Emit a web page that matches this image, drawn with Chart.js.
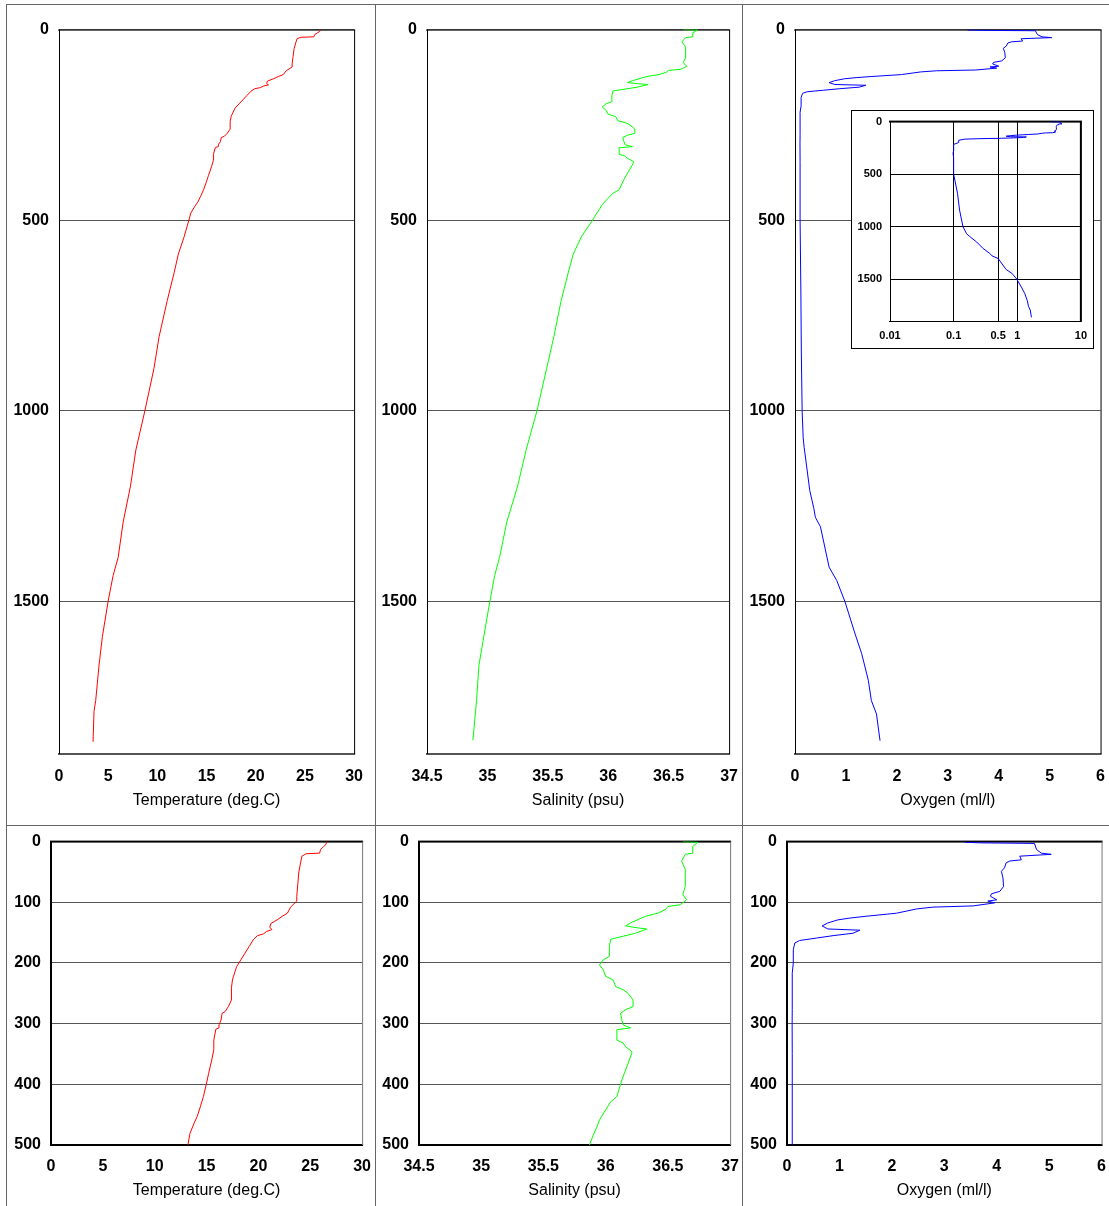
<!DOCTYPE html>
<html>
<head>
<meta charset="utf-8">
<script src="https://cdn.jsdelivr.net/npm/chart.js@4.4.0/dist/chart.umd.min.js"></script>
<style>
  body { margin: 0; background: #fff; }
  #page { position: relative; width: 1109px; height: 1206px; overflow: hidden; background: #fff; }
  .rule { position: absolute; background: #666; }
  canvas { position: absolute; }
  .inset-box { position: absolute; left: 851px; top: 110px; width: 241px; height: 237px; border: 1px solid #000; background: #fff; }
</style>
</head>
<body>
<div id="page">
  <div class="rule" style="left:6px;top:4px;width:1110px;height:1px"></div>
  <div class="rule" style="left:6px;top:825px;width:1110px;height:1px"></div>
  <div class="rule" style="left:6px;top:4px;width:1px;height:1210px"></div>
  <div class="rule" style="left:375px;top:4px;width:1px;height:1210px"></div>
  <div class="rule" style="left:742px;top:4px;width:1px;height:1210px"></div>

  <canvas id="temp-full"></canvas>
  <canvas id="sal-full"></canvas>
  <canvas id="oxy-full"></canvas>
  <div class="inset-box"></div>
  <canvas id="oxy-log"></canvas>

  <canvas id="temp-upper"></canvas>
  <canvas id="sal-upper"></canvas>
  <canvas id="oxy-upper"></canvas>
</div>
<script>
// CTD profile (depth in m)
const tempDepth = [0, 5, 8, 13, 19, 20, 24, 32, 50, 70, 90, 98, 108, 118, 123, 129, 135, 141, 145, 148, 152, 155, 162, 173, 184, 195, 206, 222, 228, 241, 261, 272, 280, 283, 294, 302, 307, 309, 327, 343, 360, 382, 398, 420, 437, 453, 464, 481, 500, 545, 589, 636, 711, 805, 889, 1000, 1103, 1197, 1292, 1385, 1432, 1500, 1592, 1667, 1760, 1788, 1868];
const tempValue = [26.6, 26.5, 26.3, 26.0, 25.9, 24.6, 24.2, 24.1, 23.9, 23.8, 23.7, 23.7, 23.1, 22.8, 22.3, 21.8, 21.2, 21.1, 21.3, 20.8, 20.5, 19.9, 19.5, 19.1, 18.7, 18.3, 17.9, 17.6, 17.5, 17.4, 17.4, 17.1, 16.8, 16.5, 16.4, 16.2, 16.2, 15.9, 15.7, 15.7, 15.5, 15.2, 15.0, 14.7, 14.4, 14.1, 13.8, 13.4, 13.2, 12.7, 12.13, 11.72, 11.0, 10.18, 9.65, 8.73, 7.81, 7.27, 6.52, 6.01, 5.5, 4.99, 4.41, 4.07, 3.73, 3.56, 3.46];

const salDepth = [0, 1, 8, 19, 21, 32, 46, 74, 87, 96, 104, 107, 112, 118, 123, 134, 139, 142, 144, 151, 156, 161, 173, 189, 195, 203, 211, 222, 228, 239, 244, 250, 261, 272, 277, 283, 294, 302, 307, 310, 327, 332, 338, 346, 349, 371, 393, 420, 429, 442, 459, 470, 484, 500, 542, 589, 636, 711, 805, 889, 1000, 1103, 1197, 1292, 1385, 1432, 1500, 1592, 1667, 1760, 1864];
const salValue = [36.62, 36.74, 36.70, 36.70, 36.64, 36.61, 36.64, 36.64, 36.62, 36.65, 36.60, 36.50, 36.48, 36.42, 36.32, 36.20, 36.16, 36.25, 36.33, 36.24, 36.14, 36.04, 36.03, 36.03, 35.98, 35.95, 35.98, 36.00, 36.06, 36.08, 36.14, 36.18, 36.22, 36.22, 36.16, 36.12, 36.13, 36.14, 36.20, 36.09, 36.09, 36.14, 36.16, 36.21, 36.21, 36.17, 36.13, 36.09, 36.04, 36.00, 35.95, 35.93, 35.90, 35.87, 35.78, 35.71, 35.67, 35.61, 35.55, 35.49, 35.41, 35.32, 35.25, 35.16, 35.10, 35.06, 35.02, 34.97, 34.93, 34.91, 34.88];

const oxyDepth = [1, 2, 3, 13, 19, 21, 24, 30, 32, 35, 43, 49, 60, 74, 82, 86, 90, 96, 98, 101, 106, 108, 111, 118, 123, 126, 129, 134, 139, 144, 146, 151, 155, 159, 163, 167, 178, 200, 217, 277, 300, 349, 500, 683, 843, 1000, 1069, 1096, 1147, 1209, 1256, 1279, 1304, 1410, 1445, 1500, 1585, 1637, 1707, 1760, 1795, 1865];
const oxyValue = [3.39, 3.67, 4.72, 4.76, 4.85, 5.04, 4.44, 4.47, 4.25, 4.18, 4.15, 4.09, 4.12, 4.13, 4.06, 3.90, 3.88, 4.00, 3.83, 3.96, 3.55, 2.78, 2.47, 2.09, 1.51, 1.20, 0.97, 0.78, 0.67, 0.78, 1.39, 1.26, 0.88, 0.56, 0.24, 0.15, 0.12, 0.12, 0.10, 0.10, 0.098, 0.10, 0.10, 0.115, 0.124, 0.14, 0.16, 0.18, 0.23, 0.29, 0.37, 0.40, 0.50, 0.67, 0.82, 0.98, 1.18, 1.31, 1.44, 1.50, 1.60, 1.67];

const depthTicksFull = [0, 500, 1000, 1500];
const depthTicksUpper = [0, 100, 200, 300, 400, 500];
const tempTicks = [0, 5, 10, 15, 20, 25, 30];
const salTicks = [34.5, 35, 35.5, 36, 36.5, 37];
const oxyTicks = [0, 1, 2, 3, 4, 5, 6];
const oxyLogTicks = [0.01, 0.1, 0.5, 1, 10];

const FONT = '"Liberation Sans", Arial, Helvetica, sans-serif';

// box round the plot area, drawn under the profile line
const framePlugin = {
  id: 'frame',
  beforeDatasetsDraw(chart, args, o) {
    const { ctx, chartArea: a } = chart;
    const w = a.right - a.left, h = a.bottom - a.top;
    ctx.save();
    ctx.fillStyle = o.color || '#000';
    ctx.fillRect(a.left - 1, a.top - Math.floor(o.top / 2), w + 2, o.top);
    ctx.fillStyle = o.bottomColor || o.color || '#000';
    ctx.fillRect(a.left - 1, a.bottom - Math.floor(o.bottom / 2), w + 2, o.bottom);
    ctx.fillStyle = o.color || '#000';
    ctx.fillRect(a.left - Math.floor(o.left / 2), a.top, o.left, h);
    ctx.fillStyle = o.rightColor || o.color || '#000';
    ctx.fillRect(a.right - Math.floor(o.right / 2), a.top, o.right, h);
    ctx.restore();
  }
};

const toPoints = (values, depths) => values.map((v, i) => ({ x: v, y: depths[i] }));

function chartConfig(c) {
  return {
    type: 'scatter',
    data: { datasets: [{
      data: c.points, showLine: true, borderColor: c.color, borderWidth: 1, pointRadius: 0, tension: 0,
      // a dash list keeps Chart.js off its x-sorted fast path, so the profile is joined in depth order
      borderDash: [4000, 0]
    }] },
    options: {
      responsive: false, maintainAspectRatio: false, animation: false, devicePixelRatio: 1,
      layout: { padding: { top: c.padTop, right: c.padRight, bottom: 0, left: 0 } },
      plugins: { legend: { display: false }, tooltip: { enabled: false }, frame: c.frame },
      scales: {
        x: {
          type: c.xType || 'linear', position: 'bottom', min: c.xMin, max: c.xMax,
          afterBuildTicks: s => { s.ticks = c.xTicks.map(v => ({ value: v })); },
          afterFit: s => { s.height = c.hx; },
          grid: { display: !!c.xGrid, color: '#000', drawTicks: false },
          border: { display: false },
          ticks: { color: '#000', autoSkip: false, maxRotation: 0, padding: c.xPad, font: { family: FONT, size: c.tickSize, weight: 'bold' }, callback: v => String(v) },
          title: { display: !!c.title, text: c.title, color: '#000', padding: 0, font: { family: FONT, size: 16 } }
        },
        y: {
          reverse: true, min: 0, max: c.depthMax,
          afterBuildTicks: s => { s.ticks = c.yTicks.map(v => ({ value: v })); },
          afterFit: s => { s.width = c.wy; },
          grid: { color: c.gridColor, drawTicks: false },
          border: { display: false },
          ticks: { color: '#000', autoSkip: false, padding: c.yPad, font: { family: FONT, size: c.tickSize, weight: 'bold' }, callback: v => String(v) }
        }
      }
    },
    plugins: [framePlugin]
  };
}

// draw once to learn the axis margins, then size and place the canvas so the plot area sits at box
function profileChart(id, box, c) {
  const canvas = document.getElementById(id);
  canvas.width = 400; canvas.height = 800;
  let chart = new Chart(canvas, chartConfig(c));
  const a = chart.chartArea;
  const ml = a.left, mt = a.top, mr = chart.width - a.right, mb = chart.height - a.bottom;
  chart.destroy();
  canvas.width = Math.round(box.R - box.L + ml + mr);
  canvas.height = Math.round(box.B - box.T + mt + mb);
  chart = new Chart(canvas, chartConfig(c));
  const b = chart.chartArea;
  canvas.style.left = (box.L - b.left) + 'px';
  canvas.style.top = (box.T - b.top) + 'px';
  return chart;
}

const fullRow = { depthMax: 1900, yTicks: depthTicksFull, padTop: 15, hx: 56, wy: 50, xPad: 13, yPad: 10, tickSize: 16, gridColor: '#555',
  frame: { top: 1, bottom: 2, left: 1, right: 1, bottomColor: '#555' } };
const upperRow = { depthMax: 500, yTicks: depthTicksUpper, padTop: 12, hx: 55, wy: 44, xPad: 12, yPad: 10, tickSize: 16, gridColor: '#555',
  frame: { top: 2, bottom: 2, left: 2, right: 1, rightColor: '#777' } };

const tempPts = toPoints(tempValue, tempDepth);
const salPts = toPoints(salValue, salDepth);
const oxyPts = toPoints(oxyValue, oxyDepth);

profileChart('temp-full', { L: 59, R: 354, T: 30, B: 754 }, { ...fullRow, points: tempPts, color: '#ff0000', xMin: 0, xMax: 30, xTicks: tempTicks, padRight: 14, title: 'Temperature (deg.C)' });
profileChart('sal-full', { L: 427, R: 729, T: 30, B: 754 }, { ...fullRow, points: salPts, color: '#00ff00', xMin: 34.5, xMax: 37, xTicks: salTicks, padRight: 14, title: 'Salinity (psu)' });
profileChart('oxy-full', { L: 795, R: 1101, T: 30, B: 754 }, { ...fullRow, points: oxyPts, color: '#0000ff', xMin: 0, xMax: 6, xTicks: oxyTicks, padRight: 8, title: 'Oxygen (ml/l)' });

profileChart('oxy-log', { L: 890, R: 1081, T: 122, B: 321 }, {
  points: oxyPts, color: '#0000ff', xType: 'logarithmic', xMin: 0.01, xMax: 10, xTicks: oxyLogTicks, xGrid: true,
  depthMax: 1900, yTicks: depthTicksFull, padTop: 8, padRight: 8, hx: 24, wy: 36, xPad: 8, yPad: 8, tickSize: 11, gridColor: '#000',
  frame: { top: 2, bottom: 1, left: 1, right: 2 }
});

profileChart('temp-upper', { L: 51, R: 362, T: 842, B: 1145 }, { ...upperRow, points: tempPts, color: '#ff0000', xMin: 0, xMax: 30, xTicks: tempTicks, padRight: 12, title: 'Temperature (deg.C)' });
profileChart('sal-upper', { L: 419, R: 730, T: 842, B: 1145 }, { ...upperRow, points: salPts, color: '#00ff00', xMin: 34.5, xMax: 37, xTicks: salTicks, padRight: 12, title: 'Salinity (psu)' });
profileChart('oxy-upper', { L: 787, R: 1102, T: 842, B: 1145 }, { ...upperRow, points: oxyPts, color: '#0000ff', xMin: 0, xMax: 6, xTicks: oxyTicks, padRight: 7, title: 'Oxygen (ml/l)' });
</script>
</body>
</html>
